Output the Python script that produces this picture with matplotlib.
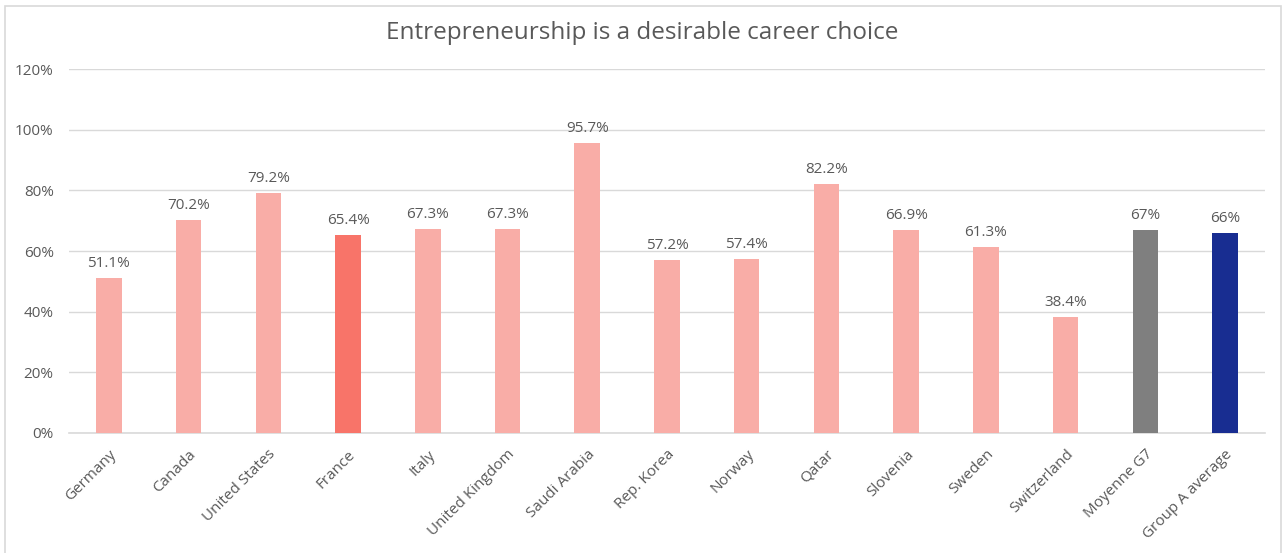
import matplotlib.pyplot as plt
from matplotlib.patches import Rectangle
from matplotlib.ticker import FuncFormatter

plt.rcParams['font.family'] = ['Open Sans', 'DejaVu Sans']

countries = ['Germany', 'Canada', 'United States', 'France', 'Italy', 'United Kingdom',
             'Saudi Arabia', 'Rep. Korea', 'Norway', 'Qatar', 'Slovenia', 'Sweden',
             'Switzerland', 'Moyenne G7', 'Group A average']
values = [51.1, 70.2, 79.2, 65.4, 67.3, 67.3, 95.7, 57.2, 57.4, 82.2, 66.9, 61.3, 38.4, 67, 66]
labels = ['51.1%', '70.2%', '79.2%', '65.4%', '67.3%', '67.3%', '95.7%', '57.2%', '57.4%',
          '82.2%', '66.9%', '61.3%', '38.4%', '67%', '66%']

PINK = '#F9ADA7'
colors = [PINK] * len(countries)
colors[3] = '#F87469'
colors[13] = '#7F7F7F'
colors[14] = '#182D91'

TXT = '#595959'
GRID = '#D9D9D9'

fig = plt.figure(figsize=(12.85, 5.53), dpi=100)
fig.patches.append(Rectangle((0.004, -0.01), 0.993, 1.0, transform=fig.transFigure,
                             fill=False, edgecolor=GRID, linewidth=1.2))

ax = fig.add_axes([0.0537, 0.217, 0.9307, 0.658])
x = range(len(countries))
bars = ax.bar(x, values, width=0.32, color=colors, zorder=3)

for b, lab in zip(bars, labels):
    ax.text(b.get_x() + b.get_width() / 2, b.get_height() + 2.2, lab,
            ha='center', va='bottom', fontsize=11, color=TXT)

ax.set_xlim(-0.5, len(countries) - 0.5)
ax.set_ylim(0, 120)
ax.set_yticks(range(0, 121, 20))
ax.yaxis.set_major_formatter(FuncFormatter(lambda v, p: f'{v:.0f}%'))
ax.grid(axis='y', color=GRID, linewidth=1, zorder=0)
for s in ['top', 'right', 'left']:
    ax.spines[s].set_visible(False)
ax.spines['bottom'].set_color(GRID)
ax.spines['bottom'].set_linewidth(1.2)
ax.tick_params(axis='both', length=0, colors=TXT, labelsize=11)
ax.tick_params(axis='y', pad=11)
ax.set_xticks(list(x))
ax.set_xticklabels(countries, rotation=45, ha='right', rotation_mode='anchor')
ax.tick_params(axis='x', pad=10)

fig.suptitle('Entrepreneurship is a desirable career choice', y=0.962,
             fontsize=17.5, color=TXT)

fig.savefig('out.png', dpi=100)
